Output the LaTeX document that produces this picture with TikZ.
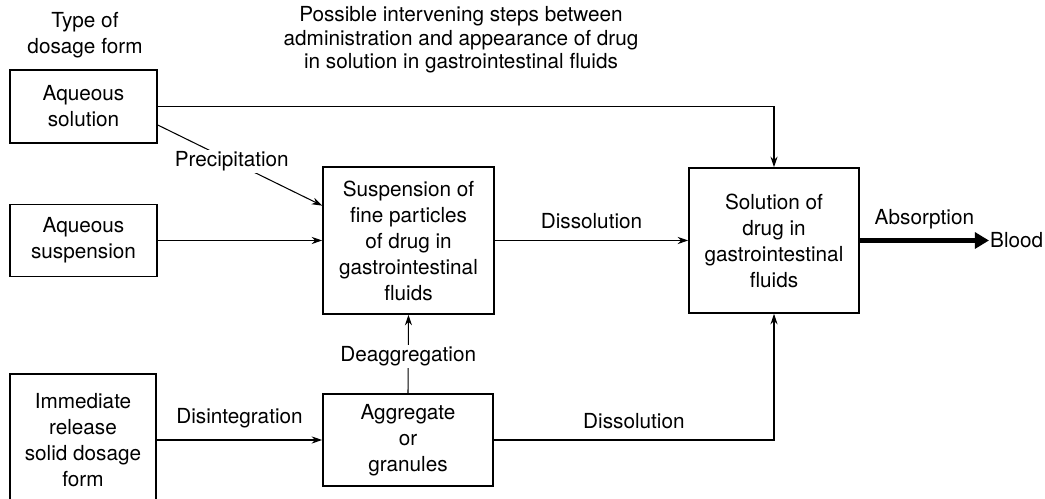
\documentclass[tikz,border=0pt]{standalone}
\usepackage{fontspec}
\setmainfont{TeX Gyre Heros}
\usetikzlibrary{arrows.meta}

\begin{document}
\begin{tikzpicture}[x=0.02cm,y=-0.02cm,font=\fontsize{11.8}{14.8}\selectfont,
    >={Stealth[length=6pt,width=4pt]}]

      \useasboundingbox (0,0) rectangle (1045,499);

      \node[align=center] (type) at (85,35) {Type of\\dosage form};
      \node[align=center,font=\fontsize{11.8}{13.4}\selectfont] (steps) at (461,40)
        {Possible intervening steps between\\administration and appearance of drug\\in solution in gastrointestinal fluids};

      \begin{scope}[every node/.style={draw,line width=0.9pt,align=center,inner sep=2pt}]
        \node[minimum width=2.94cm,minimum height=1.46cm] (asol) at (83.5,106.5) {Aqueous\\solution};
        \node[minimum width=2.94cm,minimum height=1.44cm] (asusp) at (83.5,240.5) {Aqueous\\suspension};
        \node[minimum width=2.92cm,minimum height=2.64cm] (irf) at (83,440) {Immediate\\release\\solid dosage\\form};
        \node[minimum width=3.42cm,minimum height=2.94cm] (fine) at (408.5,240.5) {Suspension of\\fine particles\\of drug in\\gastrointestinal\\fluids};
        \node[minimum width=3.4cm,minimum height=2.9cm] (soln) at (774,240.5) {Solution of\\drug in\\gastrointestinal\\fluids};
        \node[minimum width=3.4cm,minimum height=1.84cm] (agg) at (408,440) {Aggregate\\or\\granules};
      \end{scope}

      \node[anchor=west,inner sep=0.5pt] (blood) at (989,240.5) {Blood};

      \begin{scope}[every edge/.style={draw,->,line width=0.6pt}]
        \draw[->,line width=0.6pt] (asol.east) -| (soln.north);
        \path (asol.-14) edge node[pos=0.45,fill=white,inner sep=1pt] {Precipitation} (fine.158);
        \path (asusp.east) edge (fine.west);
        \path (fine.east) edge node[above=3pt] {Dissolution} (soln.west);
        \path (agg.north) edge node[pos=0.47,fill=white,inner sep=1pt] {Deaggregation} (fine.south);
        \path (irf.east) edge node[above=3pt] {Disintegration} (agg.west);
        \draw[->,line width=0.6pt] (agg.east) -| node[pos=0.25,above=3pt] {Dissolution} (soln.south);
      \end{scope}

      \draw[line width=3pt,-{Triangle[length=8pt,width=9pt]}] (soln.east) -- node[above=1.5pt] {Absorption} (blood.west);

    \end{tikzpicture}
\end{document}
